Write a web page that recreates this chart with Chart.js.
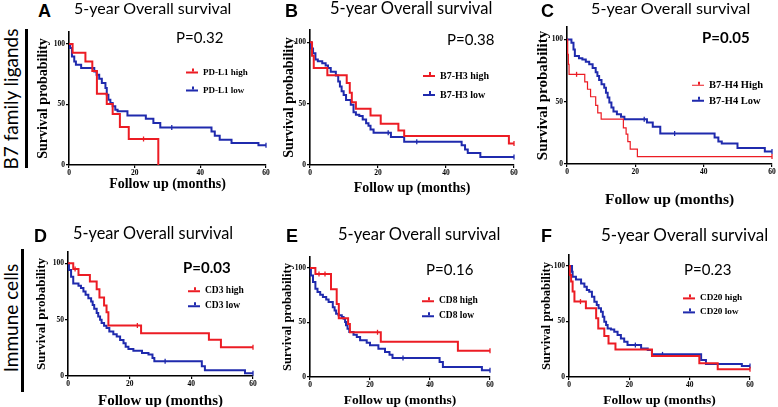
<!DOCTYPE html>
<html>
<head>
<meta charset="utf-8">
<script src="https://cdn.jsdelivr.net/npm/chart.js@4.4.1/dist/chart.umd.min.js"></script>
<style>
html, body { margin: 0; padding: 0; background: #fff; }
body { width: 778px; height: 407px; position: relative; overflow: hidden; }
.box { position: absolute; }
.txt { position: absolute; white-space: nowrap; line-height: 1; color: #000; }
.letter { font-family: 'Liberation Sans', Arial, sans-serif; font-weight: bold; font-size: 18px; }
.title { font-family: Lato, 'Open Sans', sans-serif; }
.pval { font-family: Lato, 'Open Sans', sans-serif; font-size: 15px; }
.side { font-family: Lato, 'Open Sans', sans-serif; font-size: 19px; transform: translate(-50%, -50%) rotate(-90deg); }
.bar { position: absolute; background: #000; }
.leg { position: absolute; display: flex; align-items: center; transform: translateY(-50%);
       font-family: 'Liberation Serif', 'Times New Roman', serif; font-weight: bold; line-height: 1; white-space: nowrap; }
.swatch { position: relative; margin-right: 5px; }
.swatch span { position: absolute; left: 50%; top: -3px; width: 1.5px; height: 3px; }
</style>
</head>
<body>
<script>
// text of the figure
const panelLetters = ['A', 'B', 'C', 'D', 'E', 'F'];
const panelTitle = '5-year Overall survival';
const pValues = ['P=0.32', 'P=0.38', 'P=0.05', 'P=0.03', 'P=0.16', 'P=0.23'];
const pBold = [false, false, true, true, false, false];
const highLabels = ['PD-L1 high', 'B7-H3 high', 'B7-H4 High', 'CD3 high', 'CD8 high', 'CD20 high'];
const lowLabels = ['PD-L1 low', 'B7-H3 low', 'B7-H4 Low', 'CD3 low', 'CD8 low', 'CD20 low'];
const sideLabels = ['B7 family ligands', 'Immune cells'];
const yAxisTitle = 'Survival probability';
const xAxisTitle = 'Follow up (months)';
const xTicks = [0, 20, 40, 60];
const yTicks = [0, 50, 100];

// Kaplan-Meier curves, [month, survival %]
const pdl1High = [[0,100],[1.1,92.9],[5.0,85.7],[7.1,77.7],[8.5,59],[11.5,50.4],[13.3,42.1],[15.5,31.4],[18.2,21.5],[27.2,0]];
const pdl1Low = [[0,100],[0.3,96.7],[0.9,89.8],[1.6,85.7],[2.1,82.9],[3.7,80.2],[7.7,77.4],[8.4,74.7],[9.2,71.3],[10.0,67.8],[11.1,63.6],[11.5,58.1],[12.0,54],[12.6,51.2],[13.3,48.5],[14.1,45.7],[14.8,44.4],[17.8,41],[23.4,38.3],[25.7,34.7],[27.8,31.1],[43.4,27.8],[44.4,24.2],[45.9,20.9],[49.5,18.2],[57.7,16.3],[60,16.3]];
const b7h3High = [[0,100],[0.6,89],[1.1,79.1],[5.1,73.2],[10.8,66.9],[11.7,58.8],[12.3,51.2],[13.5,45.8],[17.8,40.4],[20.8,33.6],[26,28.2],[27.7,23.6],[58.5,17.6],[60,17.6]];
const b7h3Low = [[0,100],[0.3,95],[0.9,91],[1.6,86],[2.3,84.5],[3.6,83],[4.6,81],[5.3,79],[6.1,76],[7.6,73],[8.3,68],[8.8,64],[9.3,60],[9.9,57],[10.6,53],[12.0,49],[12.8,43],[13.5,41],[14.5,40],[15.5,37],[16.5,34],[17.2,32],[17.8,29],[18.7,26.3],[23.8,22.8],[27.7,19],[44.6,16],[45.6,12.7],[46.4,9.8],[50.1,6.5],[60,6.5]];
const b7h4High = [[0,100],[0.2,88],[0.4,80],[0.6,72],[5.2,66],[6.0,60],[6.9,54],[8.4,47],[9.0,41],[10.0,36],[16.5,29],[17.3,24],[17.8,18],[18.5,12],[20.6,6],[60,6]];
const b7h4Low = [[0,100],[1.3,97.3],[1.9,92],[2.3,86.7],[3.5,85],[4.5,84],[5.5,82],[6.5,80],[7.5,77],[8.4,73.6],[8.9,70.7],[9.4,67.5],[10.1,64],[10.9,61.3],[11.4,57.3],[11.9,53.3],[12.4,49.3],[13.0,45.3],[13.6,42.1],[14.6,40],[15.8,37.9],[16.8,36],[23.4,33.3],[25.1,30],[27.3,24.5],[43.2,21.3],[44.3,18.1],[45.3,16.5],[49.9,12.8],[57.9,10.1],[60,10.1]];
const cd3High = [[0,100],[1.7,95],[3.4,89.7],[7.1,83.8],[9.3,77],[10.2,69.6],[11.7,62.5],[12.5,56.6],[13.1,44.8],[23.7,38],[45.7,32.2],[49.6,25.4],[60,25.4]];
const cd3Low = [[0,100],[0.3,94],[1.0,88],[1.7,82],[3.4,80],[4.2,78],[5.0,75],[5.7,72],[6.6,69],[7.5,66],[8.0,63],[8.5,59.6],[9.3,55.8],[9.8,52.8],[10.4,49.9],[10.9,47],[11.7,44.5],[12.5,42.5],[13.4,39.5],[14.7,37],[15.8,35],[16.9,32],[18.0,29],[18.7,26],[19.6,24],[21.2,22.4],[24.0,20.4],[26.1,19],[27.4,16],[28.0,13],[43.4,8.6],[44.4,5],[57.4,2.5],[60,2.5]];
const cd8High = [[0,100],[1.8,94.5],[7.0,80.4],[8.9,67],[9.6,53.8],[12.7,48.6],[13.3,41],[23.6,32.4],[49.3,24.1],[60,24.1]];
const cd8Low = [[0,100],[0.3,93],[1.0,87],[1.8,81],[2.5,78],[3.4,75.5],[4.3,73.4],[5.4,71],[6.2,68.8],[7.6,64],[8.2,61],[8.7,58],[9.5,56.6],[10.6,55],[11.2,53.5],[11.7,50.5],[12.0,47.4],[12.5,44.3],[13.1,41.3],[14.5,38.8],[15.6,36.7],[16.7,33.6],[18.9,31.5],[20.0,29],[22.8,26],[25,23],[26.5,20.5],[27.5,17.4],[43.2,13.8],[44.3,9.2],[57.3,6.1],[60,6.1]];
const cd20High = [[0,100],[0.3,92],[0.7,86],[1.2,77],[1.8,68],[5.6,61.9],[9.0,52.9],[9.7,43.8],[11.7,37],[13.1,30.3],[15.4,24.9],[27.5,18.9],[43.2,12.3],[49.3,6.9],[60,6.9]];
const cd20Low = [[0,100],[1.0,94.9],[1.2,90.4],[2.3,88],[4.0,84.4],[5.1,81.4],[5.9,78.4],[6.7,76.9],[7.6,72.4],[8.4,67.9],[9.2,64.9],[9.8,61.9],[10.6,58.9],[11.2,54.4],[11.7,49.8],[12.3,46.8],[12.8,43.8],[13.9,42.9],[15.0,40.8],[16.1,37.8],[17.2,34.8],[18.3,31.8],[19.4,28.8],[23.9,25.8],[26.1,24.3],[27.5,20.4],[43.8,15.3],[45.4,11.7],[57.3,9.9],[60,9.9]];

// censored patients
const pdl1HighCens = [[22.7,21.5]];
const pdl1LowCens = [[31.3,31.1],[60,16.3]];
const b7h3HighCens = [[60,17.6]];
const b7h3LowCens = [[23,26.3],[31.4,19],[60,6.5]];
const b7h4HighCens = [[2.8,72],[60,6]];
const b7h4LowCens = [[22.6,36],[31.5,24.5],[60,10.1]];
const cd3HighCens = [[2.3,95],[22.5,44.8],[60,25.4]];
const cd3LowCens = [[31.5,13],[60,2.5]];
const cd8HighCens = [[3.0,94.5],[5.0,94.5],[22.5,41],[60,24.1]];
const cd8LowCens = [[31,17.4],[60,6.1]];
const cd20HighCens = [[3.8,68],[60,6.9]];
const cd20LowCens = [[22,28.8],[31,20.4],[60,9.9]];

const highCurves = [pdl1High, b7h3High, b7h4High, cd3High, cd8High, cd20High];
const lowCurves = [pdl1Low, b7h3Low, b7h4Low, cd3Low, cd8Low, cd20Low];
const highCens = [pdl1HighCens, b7h3HighCens, b7h4HighCens, cd3HighCens, cd8HighCens, cd20HighCens];
const lowCens = [pdl1LowCens, b7h3LowCens, b7h4LowCens, cd3LowCens, cd8LowCens, cd20LowCens];

const RED = '#ec1c24';
const BLUE = '#1f2aad';
// panel C draws its red curve thinner
const redWidth = [2, 2, 1.2, 2, 2, 2];

// where each plot sits: x of 0 and 60 months, y of 110% and 0%, axis title centres and sizes
const frames = [
    {x0: 69,  x1: 266, yt: 32,  yb: 165, ytx: 43,  xty: 185, fy: 14,   fx: 14},
    {x0: 310, x1: 514, yt: 30,  yb: 165, ytx: 289, xty: 189, fy: 14,   fx: 14},
    {x0: 567, x1: 772, yt: 27,  yb: 164, ytx: 543, xty: 200, fy: 15,   fx: 15.5},
    {x0: 68,  x1: 253, yt: 252, yb: 376, ytx: 42,  xty: 401, fy: 13,   fx: 15},
    {x0: 310, x1: 490, yt: 257, yb: 377, ytx: 287, xty: 401, fy: 12.5, fx: 13.5},
    {x0: 569, x1: 750, yt: 255, yb: 377, ytx: 546, xty: 401, fy: 12.5, fx: 13.5}
];
// letter [left, top], title [left, top, size], p value [left, top], legend [line left, row1 y, row2 y, font size]
const letterPos = [[38, 1.5], [285, 1.5], [541, 1.5], [34, 226.5], [286, 226.5], [541, 226.5]];
const titlePos = [[74, 0, 16], [330, 0, 16.5], [591, 0, 16.2], [73, 225, 16.3], [338, 226, 16.5], [601, 226, 17]];
const pPos = [[176, 30], [447, 32], [702, 30], [183, 260], [426, 262], [684, 262]];
const legPos = [[186, 72, 90, 9], [423, 76, 95, 10], [692, 85, 101, 10.5], [188, 291, 306, 9.5], [422, 301, 316, 9.5], [683, 298, 312, 9.2]];
const sidePos = [[9.5, 98.5], [9.5, 318]];
const barPos = [[25, 29, 168], [21, 249, 392]];

Chart.defaults.font.family = "'Liberation Serif', 'Times New Roman', serif";
Chart.defaults.font.weight = 'bold';
Chart.defaults.color = '#000';

function addText(cls, text, left, top, extra) {
    const d = document.createElement('div');
    d.className = 'txt ' + cls;
    d.textContent = text;
    d.style.left = left + 'px';
    d.style.top = top + 'px';
    if (extra) Object.assign(d.style, extra);
    document.body.appendChild(d);
    return d;
}

function addLegendRow(label, color, width, left, y, size) {
    const row = document.createElement('div');
    row.className = 'leg';
    row.style.left = left + 'px';
    row.style.top = y + 'px';
    row.style.fontSize = size + 'px';
    const sw = document.createElement('div');
    sw.className = 'swatch';
    sw.style.width = '12px';
    sw.style.height = width + 'px';
    sw.style.background = color;
    const tick = document.createElement('span');
    tick.style.background = color;
    sw.appendChild(tick);
    const t = document.createElement('span');
    t.textContent = label;
    row.appendChild(sw);
    row.appendChild(t);
    document.body.appendChild(row);
}

function curve(points, color, width) {
    return {
        data: points.map(p => ({x: p[0], y: p[1]})),
        showLine: true, stepped: true,
        borderColor: color, borderWidth: width,
        pointRadius: 0, clip: 3
    };
}

function censored(points, color) {
    return {
        data: points.map(p => ({x: p[0], y: p[1]})),
        showLine: false,
        pointStyle: 'line', rotation: 90, pointRadius: 2.5,
        borderColor: color, borderWidth: 1.3, clip: 5
    };
}

// side labels and bars
sideLabels.forEach((s, i) => {
    addText('side', s, sidePos[i][0], sidePos[i][1]);
    const b = document.createElement('div');
    b.className = 'bar';
    b.style.left = barPos[i][0] + 'px';
    b.style.top = barPos[i][1] + 'px';
    b.style.width = '3px';
    b.style.height = (barPos[i][2] - barPos[i][1]) + 'px';
    document.body.appendChild(b);
});

frames.forEach((f, i) => {
    const left = Math.round(f.ytx - 0.6 * f.fy);
    const top = f.yt - 8;
    const right = Math.min(778, f.x1 + 10);
    const bottom = Math.round(f.xty + 0.6 * f.fx);

    const wrap = document.createElement('div');
    wrap.className = 'box';
    wrap.style.left = left + 'px';
    wrap.style.top = top + 'px';
    wrap.style.width = (right - left) + 'px';
    wrap.style.height = (bottom - top) + 'px';
    const cv = document.createElement('canvas');
    wrap.appendChild(cv);
    document.body.appendChild(wrap);

    new Chart(cv, {
        type: 'scatter',
        data: {
            datasets: [
                curve(highCurves[i], RED, redWidth[i]),
                curve(lowCurves[i], BLUE, 2),
                censored(highCens[i], RED),
                censored(lowCens[i], BLUE)
            ]
        },
        options: {
            responsive: true,
            maintainAspectRatio: false,
            animation: false,
            layout: { padding: { left: 0, top: f.yt - top, right: right - f.x1, bottom: 0 } },
            plugins: { legend: { display: false }, tooltip: { enabled: false } },
            scales: {
                x: {
                    type: 'linear', min: 0, max: 60,
                    afterBuildTicks: s => { s.ticks = xTicks.map(v => ({value: v})); },
                    afterFit: s => { s.height = bottom - f.yb; },
                    grid: { display: true, drawOnChartArea: false, tickLength: 3, color: '#000', lineWidth: 1.2 },
                    border: { display: true, color: '#000', width: 1.6 },
                    ticks: { font: { size: 7.5, weight: 'bold' }, padding: 1, maxRotation: 0, autoSkip: false },
                    title: { display: true, text: xAxisTitle, font: { size: f.fx, weight: 'bold', lineHeight: 1.2 }, padding: 0 }
                },
                y: {
                    type: 'linear', min: 0, max: 110,
                    afterBuildTicks: s => { s.ticks = yTicks.map(v => ({value: v})); },
                    afterFit: s => { s.width = f.x0 - left; },
                    grid: { display: true, drawOnChartArea: false, tickLength: 3, color: '#000', lineWidth: 1.2 },
                    border: { display: true, color: '#000', width: 1.6 },
                    ticks: { font: { size: 7.5, weight: 'bold' }, padding: 1, autoSkip: false },
                    title: { display: true, text: yAxisTitle, font: { size: f.fy, weight: 'bold', lineHeight: 1.2 }, padding: 0 }
                }
            }
        }
    });

    addText('letter', panelLetters[i], letterPos[i][0], letterPos[i][1]);
    addText('title', panelTitle, titlePos[i][0], titlePos[i][1], { fontSize: titlePos[i][2] + 'px' });
    addText('pval', pValues[i], pPos[i][0], pPos[i][1], { fontWeight: pBold[i] ? 'bold' : 'normal' });
    addLegendRow(highLabels[i], RED, redWidth[i], legPos[i][0], legPos[i][1], legPos[i][3]);
    addLegendRow(lowLabels[i], BLUE, 2, legPos[i][0], legPos[i][2], legPos[i][3]);
});
</script>
</body>
</html>
